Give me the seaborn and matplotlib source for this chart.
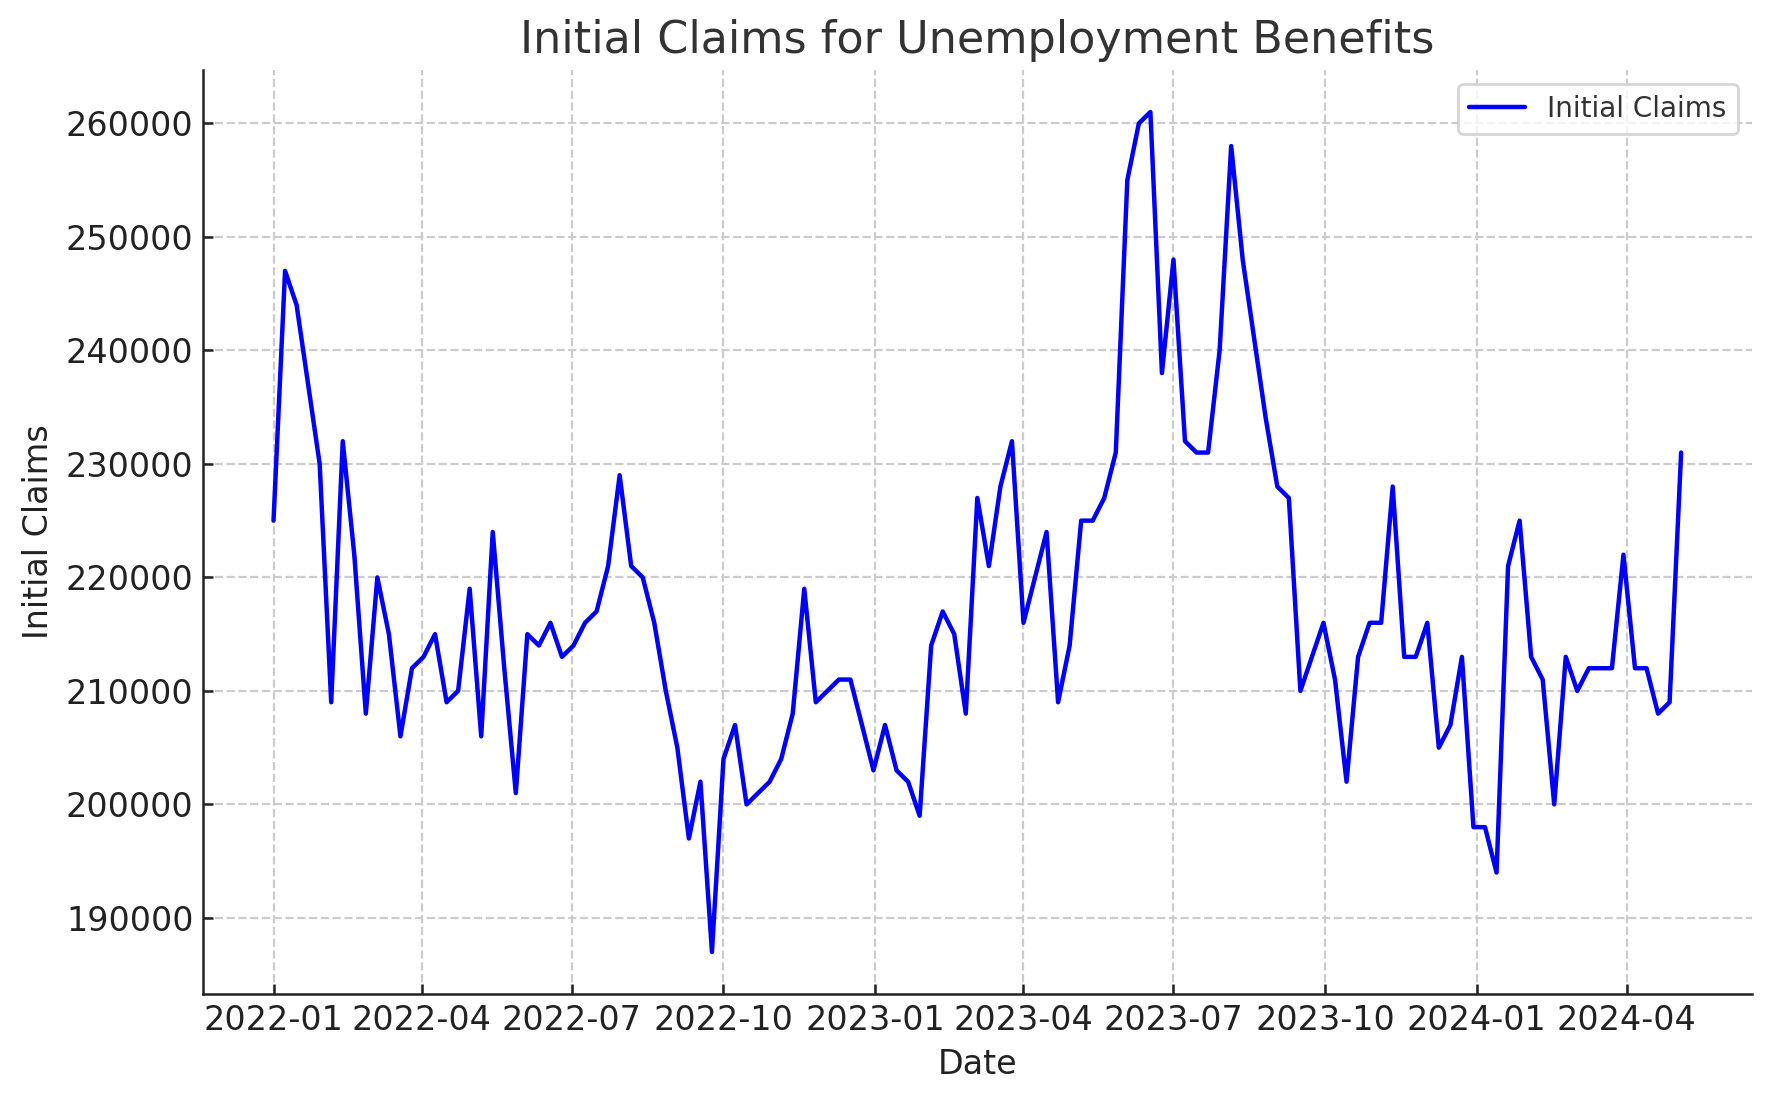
import numpy as np
import pandas as pd
import matplotlib
matplotlib.use("Agg")
import matplotlib.pyplot as plt
import matplotlib.dates as mdates
import seaborn as sns

# weekly initial claims, starting 2022-01-01
start_date = "2022-01-01"
claims = [
    225000, 247000, 244000, 237000, 230000, 209000, 232000, 222000, 208000, 220000,
    215000, 206000, 212000, 213000, 215000, 209000, 210000, 219000, 206000, 224000,
    212000, 201000, 215000, 214000, 216000, 213000, 214000, 216000, 217000, 221000,
    229000, 221000, 220000, 216000, 210000, 205000, 197000, 202000, 187000, 204000,
    207000, 200000, 201000, 202000, 204000, 208000, 219000, 209000, 210000, 211000,
    211000, 207000, 203000, 207000, 203000, 202000, 199000, 214000, 217000, 215000,
    208000, 227000, 221000, 228000, 232000, 216000, 220000, 224000, 209000, 214000,
    225000, 225000, 227000, 231000, 255000, 260000, 261000, 238000, 248000, 232000,
    231000, 231000, 240000, 258000, 248000, 241000, 234000, 228000, 227000, 210000,
    213000, 216000, 211000, 202000, 213000, 216000, 216000, 228000, 213000, 213000,
    216000, 205000, 207000, 213000, 198000, 198000, 194000, 221000, 225000, 213000,
    211000, 200000, 213000, 210000, 212000, 212000, 212000, 222000, 212000, 212000,
    208000, 209000, 231000,
]
dates = pd.date_range(start_date, periods=len(claims), freq="7D")

df = pd.DataFrame({"Date": dates, "Initial Claims": claims})

sns.set_style("ticks", {
    "axes.grid": True,
    "grid.linestyle": "--",
    "grid.color": "#cccccc",
    "axes.edgecolor": "#222222",
    "xtick.direction": "in",
    "ytick.direction": "in",
    "xtick.color": "#222222",
    "ytick.color": "#222222",
    "text.color": "#333333",
    "axes.labelcolor": "#222222",
})
plt.rcParams["font.family"] = ["DejaVu Sans"]

DPI = 200
fig, ax = plt.subplots(figsize=(1771 / DPI, 1101 / DPI))
fig.subplots_adjust(left=0.1147, right=0.989, top=0.9364, bottom=0.0972)

sns.lineplot(data=df, x="Date", y="Initial Claims", color="blue",
             linewidth=1.6, label="Initial Claims", ax=ax)

ax.xaxis.set_major_locator(mdates.MonthLocator(bymonth=[1, 4, 7, 10]))
ax.xaxis.set_major_formatter(mdates.DateFormatter("%Y-%m"))
ax.tick_params(labelsize=12, length=3.5, width=0.9)
ax.set_xlabel("Date", fontsize=12)
ax.set_ylabel("Initial Claims", fontsize=12)
ax.set_title("Initial Claims for Unemployment Benefits", fontsize=16, color="#333333")
ax.grid(True, linestyle="--", color="#cccccc", linewidth=0.8)
for side in ["left", "bottom"]:
    ax.spines[side].set_linewidth(0.9)
sns.despine(ax=ax)
ax.legend(loc="upper right", fontsize=10)

plt.savefig("out.png", dpi=DPI)
plt.close()
